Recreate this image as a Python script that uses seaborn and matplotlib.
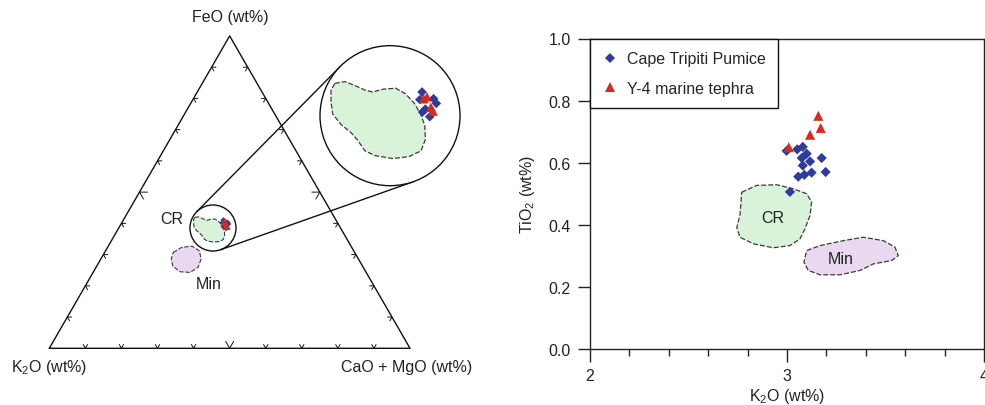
import numpy as np
import pandas as pd
import matplotlib
matplotlib.use("Agg")
import matplotlib.pyplot as plt
import seaborn as sns
from matplotlib.patches import Circle, Polygon
from matplotlib.ticker import MultipleLocator, FormatStrFormatter

sns.set_theme(style="ticks")
plt.rcParams['font.family'] = ['Liberation Sans', 'DejaVu Sans']
plt.rcParams['mathtext.fontset'] = 'custom'
plt.rcParams['mathtext.rm'] = 'Liberation Sans'
plt.rcParams['mathtext.it'] = 'Liberation Sans:italic'

FS = 11.5

# ---- K2O vs TiO2 (wt%) ----
ctp_k2o = [2.998, 3.052, 3.080, 3.100, 3.075, 3.117, 3.080, 3.176, 3.196, 3.125, 3.088, 3.057, 3.015]
ctp_tio2 = [0.638, 0.643, 0.651, 0.629, 0.615, 0.604, 0.591, 0.615, 0.570, 0.568, 0.561, 0.555, 0.506]
y4_k2o = [3.159, 3.171, 3.117, 3.009]
y4_tio2 = [0.751, 0.712, 0.690, 0.650]

# reference fields in K2O-TiO2 space
cr_k2o = [2.770, 2.846, 2.948, 3.032, 3.100, 3.125, 3.117, 3.091, 3.066, 3.015, 2.930, 2.829, 2.761, 2.745, 2.761, 2.766]
cr_tio2 = [0.505, 0.527, 0.529, 0.516, 0.500, 0.473, 0.430, 0.387, 0.355, 0.333, 0.326, 0.339, 0.360, 0.392, 0.430, 0.468]
min_k2o = [3.100, 3.168, 3.286, 3.387, 3.489, 3.548, 3.565, 3.531, 3.438, 3.371, 3.269, 3.168, 3.108, 3.086]
min_tio2 = [0.317, 0.333, 0.349, 0.360, 0.349, 0.328, 0.301, 0.285, 0.274, 0.253, 0.239, 0.239, 0.253, 0.280]

# ---- ternary compositions (normalised %) ----
t_ctp_feo = [41.0, 40.2, 39.8, 38.9, 38.4, 39.2, 40.3]
t_ctp_k2o = [31.2, 31.8, 30.5, 32.2, 31.8, 31.8, 30.5]
t_ctp_cm = [27.8, 28.0, 29.7, 28.9, 29.8, 29.0, 29.2]
t_y4_feo = [40.5, 39.4, 40.3, 39.0]
t_y4_k2o = [31.0, 31.2, 31.4, 31.2]
t_y4_cm = [28.5, 29.4, 28.3, 29.8]

t_cr_feo = [41.9, 42.1, 41.7, 41.2, 41.0, 41.3, 41.4, 40.8, 39.8, 38.7, 37.5, 36.0, 34.8,
            34.2, 34.0, 34.3, 34.8, 35.9, 36.7, 37.6, 38.7, 40.0, 41.2]
t_cr_cm = [19.4, 20.2, 21.3, 22.5, 23.3, 24.1, 25.2, 26.4, 27.7, 28.8, 29.8, 30.6, 30.8,
           30.0, 28.6, 26.9, 25.7, 24.5, 23.5, 22.1, 20.8, 20.0, 19.4]
t_min_feo = [30.7, 32.3, 32.7, 31.2, 28.6, 25.9, 24.3, 24.5, 26.3, 28.6]
t_min_cm = [19.0, 20.5, 23.2, 26.0, 27.8, 28.3, 26.9, 24.0, 21.1, 19.5]

labels = ["Cape Tripiti Pumice", "Y-4 marine tephra"]
colors = {labels[0]: "#2e3b9c", labels[1]: "#d92b1c"}
marks = {labels[0]: "D", labels[1]: "^"}
green = "#d9f3da"
purple = "#ead8f1"
edge = "#3a3a3a"
dash = (0, (4, 1.6))
ink = "#222222"

H = np.sqrt(3) / 2


def tern_xy(fe, k, cm):
    fe, k, cm = map(np.asarray, (fe, k, cm))
    s = fe + k + cm
    f = fe / s
    c = cm / s
    return c + f / 2, f * H


fig = plt.figure(figsize=(9.85, 4.06), dpi=100)

# ================= ternary =================
ax_t = fig.add_axes([0, 0, 470 / 985, 1])
ax_t.set_xlim(-49.3 / 360.7, (470 - 49.3) / 360.7)
ax_t.set_ylim((349.3 - 406) / 360.7, 349.3 / 360.7)
ax_t.axis("off")

A, B, C = np.array([0, 0]), np.array([1, 0]), np.array([0.5, H])
ax_t.plot([0, 1, 0.5, 0], [0, 0, H, 0], color="#111111", lw=1.0, zorder=2)
for i in range(1, 10):
    t = i / 10
    L = 0.022 if i == 5 else 0.012
    for p, d1, d2 in [(A + t * (B - A), (0.5, H), (-0.5, H)),
                      (A + t * (C - A), (1, 0), (0.5, -H)),
                      (B + t * (C - B), (-1, 0), (-0.5, -H))]:
        pts = np.array([p + L * np.array(d1), p, p + L * np.array(d2)])
        ax_t.plot(pts[:, 0], pts[:, 1], color="#111111", lw=0.7, zorder=2)

tdf = pd.DataFrame({
    "sample": [labels[0]] * len(t_ctp_feo) + [labels[1]] * len(t_y4_feo),
    "feo": t_ctp_feo + t_y4_feo,
    "k2o": t_ctp_k2o + t_y4_k2o,
    "cm": t_ctp_cm + t_y4_cm,
})
tdf["x"], tdf["y"] = tern_xy(tdf["feo"], tdf["k2o"], tdf["cm"])

cr_fe = np.array(t_cr_feo); cr_cm = np.array(t_cr_cm)
cr_xy = np.column_stack(tern_xy(cr_fe, 100 - cr_fe - cr_cm, cr_cm))
mn_fe = np.array(t_min_feo); mn_cm = np.array(t_min_cm)
mn_xy = np.column_stack(tern_xy(mn_fe, 100 - mn_fe - mn_cm, mn_cm))

ax_t.add_patch(Polygon(mn_xy, closed=True, facecolor=purple, edgecolor=edge, lw=0.8, ls=dash, zorder=3))
ax_t.add_patch(Polygon(cr_xy, closed=True, facecolor=green, edgecolor=edge, lw=0.8, ls=dash, zorder=3))
sns.scatterplot(data=tdf, x="x", y="y", hue="sample", style="sample", size="sample",
                palette=colors, markers=marks, sizes={labels[0]: 10, labels[1]: 26},
                linewidth=0, legend=False, ax=ax_t, zorder=4)

# zoom circles
small_c, r_s = np.array([0.4538, 0.3335]), 0.0638
big_c, r_b = np.array([0.9446, 0.6449]), 0.1941
mag = r_b / r_s
ax_t.add_patch(Circle(small_c, r_s, fill=False, edgecolor="#111111", lw=1.0, zorder=5))

d = big_c - small_c
dist = np.hypot(*d)
theta = np.arctan2(d[1], d[0])
alpha = np.arccos((r_s - r_b) / dist)
for sgn in (1, -1):
    n = np.array([np.cos(theta + sgn * alpha), np.sin(theta + sgn * alpha)])
    p1, p2 = small_c + r_s * n, big_c + r_b * n
    ax_t.plot([p1[0], p2[0]], [p1[1], p2[1]], color="#111111", lw=1.0, zorder=5)

clip = Circle(big_c, r_b, facecolor="white", edgecolor="none", zorder=6)
ax_t.add_patch(clip)
big_cr = big_c + mag * (cr_xy - small_c)
pg = Polygon(big_cr, closed=True, facecolor=green, edgecolor=edge, lw=0.9, ls=dash, zorder=7)
ax_t.add_patch(pg)
pg.set_clip_path(clip)
bdf = tdf.copy()
bdf["x"] = big_c[0] + mag * (tdf["x"] - small_c[0])
bdf["y"] = big_c[1] + mag * (tdf["y"] - small_c[1])
n_before = len(ax_t.collections)
sns.scatterplot(data=bdf, x="x", y="y", hue="sample", style="sample", size="sample",
                palette=colors, markers=marks, sizes={labels[0]: 24, labels[1]: 48},
                linewidth=0, legend=False, ax=ax_t, zorder=8)
for coll in ax_t.collections[n_before:]:
    coll.set_clip_path(clip)
ax_t.add_patch(Circle(big_c, r_b, fill=False, edgecolor="#111111", lw=1.0, zorder=9))
ax_t.set_xlabel("")
ax_t.set_ylabel("")

ax_t.text(0.501, 0.9185, "FeO (wt%)", ha="center", va="center", fontsize=FS, color=ink)
ax_t.text(0.0, -0.0516, "K$_2$O (wt%)", ha="center", va="center", fontsize=FS, color=ink)
ax_t.text(0.992, -0.0516, "CaO + MgO (wt%)", ha="center", va="center", fontsize=FS, color=ink)
ax_t.text(0.3393, 0.3585, "CR", ha="center", va="center", fontsize=FS, color=ink)
ax_t.text(0.4408, 0.1785, "Min", ha="center", va="center", fontsize=FS, color=ink)

# ================= K2O vs TiO2 =================
ax = fig.add_axes([590 / 985, 56 / 406, 394 / 985, 310.5 / 406])
df = pd.DataFrame({
    "sample": [labels[0]] * len(ctp_k2o) + [labels[1]] * len(y4_k2o),
    "K2O": ctp_k2o + y4_k2o,
    "TiO2": ctp_tio2 + y4_tio2,
})
ax.add_patch(Polygon(np.column_stack([cr_k2o, cr_tio2]), closed=True, facecolor=green,
                     edgecolor=edge, lw=0.9, ls=dash, zorder=2))
ax.add_patch(Polygon(np.column_stack([min_k2o, min_tio2]), closed=True, facecolor=purple,
                     edgecolor=edge, lw=0.9, ls=dash, zorder=2))
sns.scatterplot(data=df, x="K2O", y="TiO2", hue="sample", style="sample", size="sample",
                palette=colors, markers=marks, sizes={labels[0]: 27, labels[1]: 52},
                linewidth=0, ax=ax, zorder=3)
ax.text(2.928, 0.423, "CR", ha="center", va="center", fontsize=FS, color=ink)
ax.text(3.271, 0.293, "Min", ha="center", va="center", fontsize=FS, color=ink)

old = ax.get_legend()
handles = old.legend_handles
leg_labels = [t.get_text() for t in old.get_texts()]
old.remove()
leg = ax.legend(handles, leg_labels, loc="upper left", bbox_to_anchor=(0, 1), borderaxespad=0,
                frameon=True, fancybox=False, edgecolor="#111111", framealpha=1, fontsize=FS,
                labelspacing=0.9, borderpad=0.8, handletextpad=0.6, handlelength=0.9)
leg.get_frame().set_linewidth(1.0)

ax.set_xlim(2, 4)
ax.set_ylim(0, 1)
ax.xaxis.set_major_locator(MultipleLocator(1))
ax.xaxis.set_minor_locator(MultipleLocator(0.2))
ax.yaxis.set_major_locator(MultipleLocator(0.2))
ax.yaxis.set_major_formatter(FormatStrFormatter("%.1f"))
ax.tick_params(which="major", direction="out", length=9, width=1, pad=5, labelsize=FS,
               color=ink, labelcolor=ink)
ax.tick_params(which="minor", direction="out", length=5, width=1, color=ink)
for sp in ax.spines.values():
    sp.set_color(ink)
    sp.set_linewidth(1.0)
ax.set_xlabel("K$_2$O (wt%)", fontsize=FS, color=ink, labelpad=2)
ax.set_ylabel("TiO$_2$ (wt%)", fontsize=FS, color=ink, labelpad=8)

fig.savefig("out.png", dpi=100)
